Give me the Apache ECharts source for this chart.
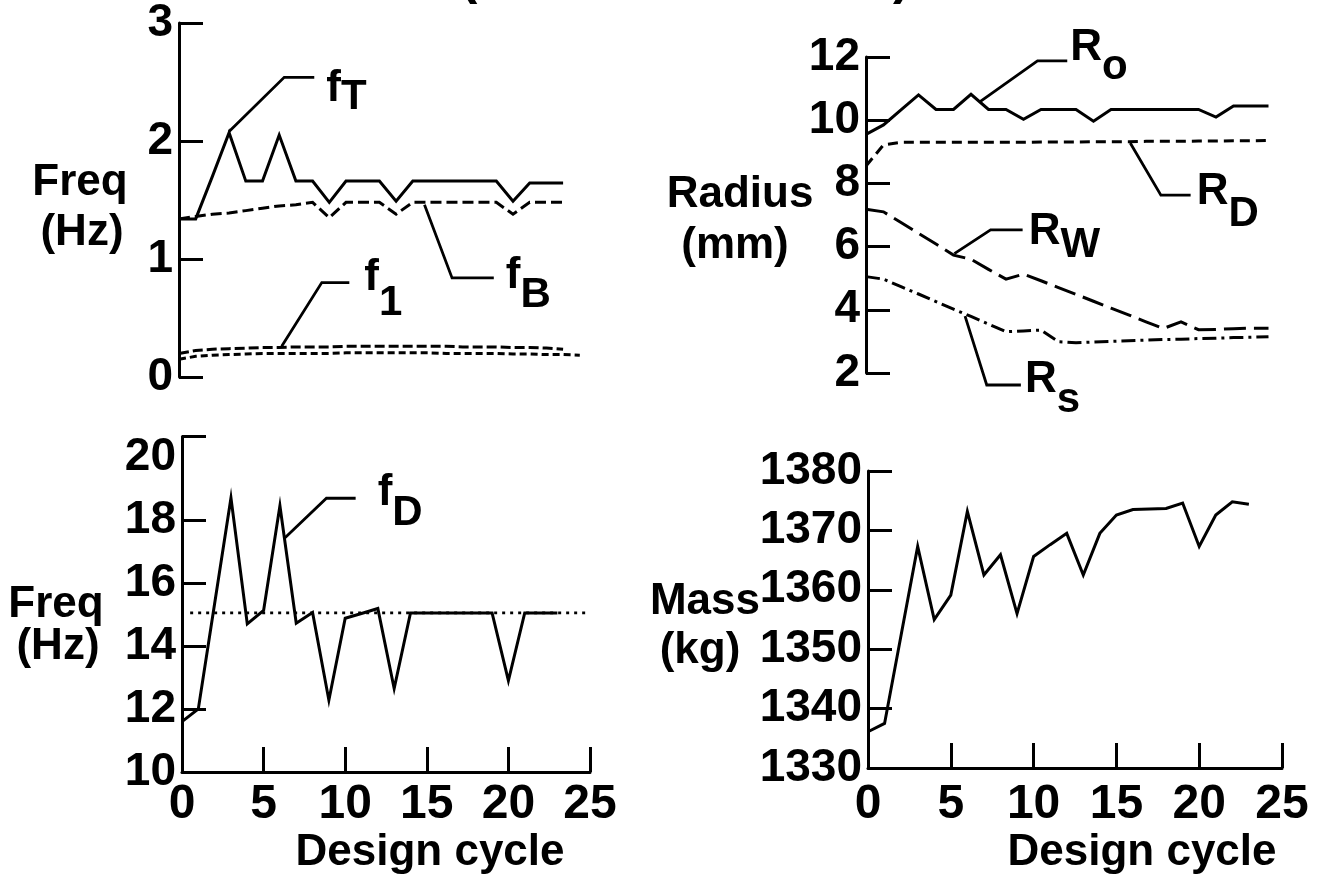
<!DOCTYPE html>
<html>
<head>
<meta charset="utf-8">
<title>Design cycle history</title>
<script src="https://cdn.jsdelivr.net/npm/echarts@6/dist/echarts.min.js"></script>
<style>
  html, body { margin: 0; padding: 0; background: #fff; }
  #chart { width: 1329px; height: 880px; }
</style>
</head>
<body>
<div id="chart"></div>
<script>
// design cycles
const cycles = [0, 1, 2, 3, 4, 5, 6, 7, 8, 9, 10, 11, 12, 13, 14, 15, 16, 17, 18, 19, 20, 21, 22, 23];
const cyclesLong = [0, 1, 2, 3, 4, 5, 6, 7, 8, 9, 10, 11, 12, 13, 14, 15, 16, 17, 18, 19, 20, 21, 22, 23, 24];

// top left: frequencies (Hz)
const fT = [1.34, 1.34, 1.70, 2.07, 1.66, 1.66, 2.05, 1.66, 1.66, 1.48, 1.66, 1.66, 1.66, 1.49, 1.66, 1.66, 1.66, 1.66, 1.66, 1.66, 1.49, 1.645, 1.645, 1.645];
const fB = [1.34, 1.36, 1.38, 1.39, 1.41, 1.43, 1.45, 1.46, 1.48, 1.35, 1.48, 1.48, 1.48, 1.38, 1.48, 1.48, 1.48, 1.48, 1.48, 1.48, 1.38, 1.48, 1.48, 1.48];
const f1 = [0.20, 0.225, 0.235, 0.24, 0.245, 0.25, 0.25, 0.255, 0.255, 0.255, 0.26, 0.26, 0.26, 0.26, 0.26, 0.26, 0.26, 0.255, 0.255, 0.255, 0.25, 0.25, 0.245, 0.235];
const fLower = [0.15, 0.175, 0.185, 0.19, 0.195, 0.2, 0.2, 0.2, 0.2, 0.2, 0.205, 0.205, 0.205, 0.205, 0.205, 0.205, 0.2, 0.2, 0.2, 0.2, 0.195, 0.195, 0.19, 0.19, 0.185];

// top right: radii (mm)
const Ro = [9.55, 9.85, 10.33, 10.8, 10.34, 10.34, 10.82, 10.34, 10.34, 10.03, 10.34, 10.34, 10.34, 9.97, 10.34, 10.34, 10.34, 10.34, 10.34, 10.34, 10.1, 10.45, 10.45, 10.45];
const RD = [8.55, 9.22, 9.3, 9.3, 9.3, 9.3, 9.3, 9.3, 9.3, 9.3, 9.31, 9.31, 9.31, 9.32, 9.32, 9.32, 9.33, 9.33, 9.33, 9.34, 9.34, 9.35, 9.35, 9.36];
const RW = [7.18, 7.1, 6.76, 6.42, 6.08, 5.73, 5.6, 5.28, 4.97, 5.13, 4.92, 4.70, 4.49, 4.27, 4.05, 3.84, 3.62, 3.41, 3.62, 3.37, 3.38, 3.4, 3.42, 3.42];
const Rs = [5.05, 4.97, 4.73, 4.5, 4.26, 4.02, 3.79, 3.55, 3.31, 3.33, 3.36, 2.99, 2.96, 2.98, 3.0, 3.02, 3.04, 3.06, 3.07, 3.09, 3.1, 3.12, 3.13, 3.15];

// bottom left: fD (Hz) and its 15 Hz target
const fD = [11.6, 12.0, 15.35, 18.7, 14.7, 15.13, 18.45, 14.72, 15.06, 12.28, 14.88, 15.03, 15.19, 12.65, 15.05, 15.05, 15.05, 15.05, 15.05, 15.05, 12.9, 15.05, 15.05, 15.05];
const fDTarget = 15.05;
const fDTargetSpan = [0.5, 24.8];

// bottom right: mass (kg)
const mass = [1336.1, 1337.5, 1352.4, 1367.3, 1355.0, 1359.1, 1373.2, 1362.5, 1365.9, 1356.0, 1365.6, 1367.6, 1369.5, 1362.5, 1369.5, 1372.6, 1373.5, 1373.6, 1373.7, 1374.6, 1367.3, 1372.6, 1374.8, 1374.4];

// leader lines for the curve labels, in data units
const fTLead = [[3, 2.08], [6.3, 2.54], [8.1, 2.54]];
const fBLead = [[14.7, 1.46], [16.35, 0.84], [18.85, 0.84]];
const f1Lead = [[6.15, 0.26], [8.55, 0.80], [10.2, 0.80]];
const RoLead = [[6.5, 10.58], [9.8, 11.88], [11.5, 11.88]];
const RDLead = [[15.1, 9.28], [16.85, 7.63], [18.55, 7.63]];
const RWLead = [[5.05, 5.78], [7.12, 6.53], [8.95, 6.53]];
const RsLead = [[5.66, 3.8], [6.9, 1.62], [8.85, 1.62]];
const fDLead = [[6.28, 17.42], [8.85, 18.69], [10.64, 18.69]];

const font = '"Liberation Sans", Arial, Helvetica, sans-serif';
const ink = '#000';

function pairs(xs, ys) {
  return ys.map((v, i) => [xs[i], v]);
}

function curve(idx, data, type, width) {
  return {
    type: 'line',
    xAxisIndex: idx,
    yAxisIndex: idx,
    data: data,
    symbol: 'none',
    silent: true,
    clip: false,
    lineStyle: { color: ink, width: width || 3, type: type || 'solid', join: 'miter' }
  };
}

function leader(idx, pts, main, sub, dist, dy, drop) {
  const s = curve(idx, pts, 'solid', 2.8);
  s.endLabel = {
    show: true,
    distance: dist,
    offset: [0, dy],
    formatter: function () { return '{m|' + main + '}{s|' + sub + '}'; },
    rich: {
      m: { fontSize: 44, lineHeight: 44, fontWeight: 'bold', fontFamily: font, color: ink },
      s: { fontSize: 42, lineHeight: 42, fontWeight: 'bold', fontFamily: font, color: ink, padding: [drop * 2, 0, 0, 0] }
    }
  };
  return s;
}

function yAxis(idx, min, max, interval) {
  return {
    type: 'value',
    gridIndex: idx,
    min: min,
    max: max,
    interval: interval,
    position: 'left',
    axisLine: { show: true, onZero: false, lineStyle: { color: ink, width: 3 } },
    axisTick: { show: true, inside: true, length: 24, lineStyle: { color: ink, width: 3 } },
    axisLabel: {
      color: ink, fontSize: 46, fontWeight: 'bold', fontFamily: font, margin: 6,
      formatter: function (v) { return String(v); }
    },
    splitLine: { show: false }
  };
}

function xAxis(idx, show, labelMargin) {
  return {
    type: 'value',
    gridIndex: idx,
    min: 0,
    max: 25,
    interval: 5,
    show: show,
    position: 'bottom',
    axisLine: { show: true, onZero: false, lineStyle: { color: ink, width: 3 } },
    axisTick: { show: true, inside: true, length: 25, lineStyle: { color: ink, width: 3 } },
    axisLabel: { color: ink, fontSize: 48, fontWeight: 'bold', fontFamily: font, margin: labelMargin },
    splitLine: { show: false }
  };
}

function txt(x, y, text, size) {
  return {
    type: 'text', x: x, y: y, silent: true,
    style: {
      text: text, fill: ink, align: 'center', verticalAlign: 'middle',
      fontSize: size || 44, fontWeight: 'bold', fontFamily: font
    }
  };
}

const yBL = yAxis(2, 10, 20.65, 2);
yBL.axisTick.customValues = [10, 12, 14, 16, 18, 20.65];
yBL.axisLabel.customValues = [10, 12, 14, 16, 18, 20];

const chart = echarts.init(document.getElementById('chart'));
chart.setOption({
  animation: false,
  backgroundColor: '#fff',
  grid: [
    { left: 179, top: 21, width: 417.5, height: 356 },
    { left: 866, top: 57, width: 437.5, height: 316 },
    { left: 182, top: 436.5, width: 408, height: 335.5 },
    { left: 868, top: 471, width: 414, height: 297 }
  ],
  xAxis: [xAxis(0, false, 9), xAxis(1, false, 9), xAxis(2, true, 9), xAxis(3, true, 13)],
  yAxis: [yAxis(0, 0, 3, 1), yAxis(1, 2, 12, 2), yBL, yAxis(3, 1330, 1380, 10)],
  graphic: [
    txt(80, 183, 'Freq'), txt(82, 233, '(Hz)'),
    txt(740, 195, 'Radius'), txt(735, 246, '(mm)'),
    txt(56, 605, 'Freq'), txt(58, 647, '(Hz)'),
    txt(705, 602, 'Mass'), txt(700, 651, '(kg)'),
    txt(430, 853, 'Design cycle'), txt(1142, 853, 'Design cycle'),
    // bottoms of the cropped title's brackets
    { type: 'text', x: 460, y: -21, silent: true,
      style: { text: '(', fill: ink, fontSize: 52, fontWeight: 'bold', fontFamily: font, align: 'left', verticalAlign: 'middle' } },
    { type: 'text', x: 893, y: -21, silent: true,
      style: { text: ')', fill: ink, fontSize: 52, fontWeight: 'bold', fontFamily: font, align: 'left', verticalAlign: 'middle' } }
  ],
  series: [
    curve(0, pairs(cycles, fT)),
    curve(0, pairs(cycles, fB), [11, 5]),
    curve(0, pairs(cycles, f1), [10, 4]),
    curve(0, pairs(cyclesLong, fLower), [7, 4]),
    leader(0, fTLead, 'f', 'T', 12, 12, 8),
    leader(0, fBLead, 'f', 'B', 12, -2, 20),
    leader(0, f1Lead, 'f', '1', 15, -5, 26),

    curve(1, pairs(cycles, Ro)),
    curve(1, pairs(cycles, RD), [10, 6]),
    curve(1, pairs(cycles, RW), [22, 8]),
    curve(1, pairs(cycles, Rs), [14, 5, 3, 5]),
    leader(1, RoLead, 'R', 'o', 3, -13, 20),
    leader(1, RDLead, 'R', 'D', 6, -3, 22),
    leader(1, RWLead, 'R', 'W', 6, 2, 14),
    leader(1, RsLead, 'R', 's', 4, -5, 20),

    curve(2, pairs(cycles, fD)),
    curve(2, [[fDTargetSpan[0], fDTarget], [fDTargetSpan[1], fDTarget]], [3, 5], 2.8),
    leader(2, fDLead, 'f', 'D', 22, -5, 20),

    curve(3, pairs(cycles, mass))
  ]
});
</script>
</body>
</html>
